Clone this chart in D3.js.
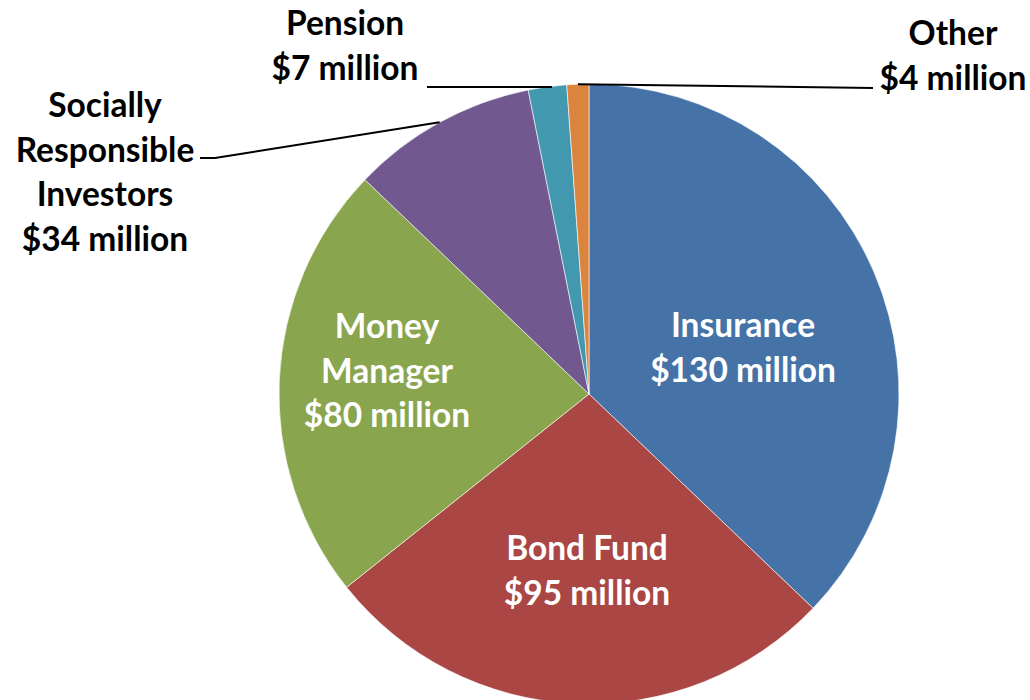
<!DOCTYPE html>
<html>
<head>
<meta charset="utf-8">
<script src="https://cdn.jsdelivr.net/npm/d3@7"></script>
<style>
  html, body { margin: 0; padding: 0; background: #fff; }
  svg { display: block; }
  text { font-family: Lato, "Liberation Sans", sans-serif; font-weight: 700; }
</style>
</head>
<body>
<svg id="chart" width="1030" height="700"></svg>
<script>
// Funding by investor type, in millions of dollars
const categories = ["Insurance", "Bond Fund", "Money Manager", "Socially Responsible Investors", "Pension", "Other"];
const values = [130, 95, 80, 34, 7, 4];

// Slice fills
const colors = ["#4572A7", "#AA4643", "#89A54E", "#71588F", "#4198AF", "#DB843D"];

// How each category name is wrapped in its label
const nameLines = [["Insurance"], ["Bond Fund"], ["Money", "Manager"], ["Socially", "Responsible", "Investors"], ["Pension"], ["Other"]];

// Label layout: centre x, first line centre y, whether it sits outside the pie with a leader
const labelLayout = [
  { x: 743, y: 325, outside: false },
  { x: 587, y: 548, outside: false },
  { x: 387, y: 326, outside: false },
  { x: 105, y: 105, outside: true, leader: [[200, 158], [215, 158]] },
  { x: 345, y: 23,  outside: true, leader: [[427, 87], [552, 87]] },
  { x: 953, y: 33,  outside: true, leader: [[873, 88]] }
];

const cx = 589, cy = 394, radius = 310, lineStep = 44.5;

const svg = d3.select("#chart");
const g = svg.append("g").attr("transform", `translate(${cx},${cy})`);

const pie = d3.pie().sort(null).value(d => d.value);
const data = categories.map((c, i) => ({ name: c, value: values[i], i }));
const arcs = pie(data);

const arc = d3.arc().innerRadius(0).outerRadius(radius);
const edgeArc = d3.arc().innerRadius(radius).outerRadius(radius);

g.selectAll("path.slice")
  .data(arcs)
  .join("path")
  .attr("class", "slice")
  .attr("d", arc)
  .attr("fill", d => colors[d.data.i])
  .attr("stroke", "#ffffff")
  .attr("stroke-width", 0.6)
  .attr("stroke-linejoin", "round");

// Leader lines from the slice rim to the outside labels
const line = d3.line();
arcs.forEach(d => {
  const lay = labelLayout[d.data.i];
  if (!lay.outside) return;
  const [ex, ey] = edgeArc.centroid(d);
  const rim = [cx + ex, cy + ey];
  let pts;
  if (d.data.i === 4) {
    // this leader runs flat into the rim
    pts = lay.leader;
  } else if (d.data.i === 3) {
    pts = [rim, lay.leader[1], lay.leader[0]];
  } else {
    pts = [rim, ...lay.leader];
  }
  svg.append("path")
    .attr("d", line(pts))
    .attr("fill", "none")
    .attr("stroke", "#000")
    .attr("stroke-width", 2);
});

// Labels: category name lines followed by the value line
arcs.forEach(d => {
  const lay = labelLayout[d.data.i];
  const lines = [...nameLines[d.data.i], `$${d.data.value} million`];
  const t = svg.append("text")
    .attr("text-anchor", "middle")
    .attr("fill", lay.outside ? "#000" : "#fff")
    .attr("font-size", 33.5);
  lines.forEach((s, k) => {
    t.append("tspan")
      .attr("x", lay.x)
      .attr("y", lay.y + k * lineStep)
      .attr("dy", "0.36em")
      .text(s);
  });
});
</script>
</body>
</html>
